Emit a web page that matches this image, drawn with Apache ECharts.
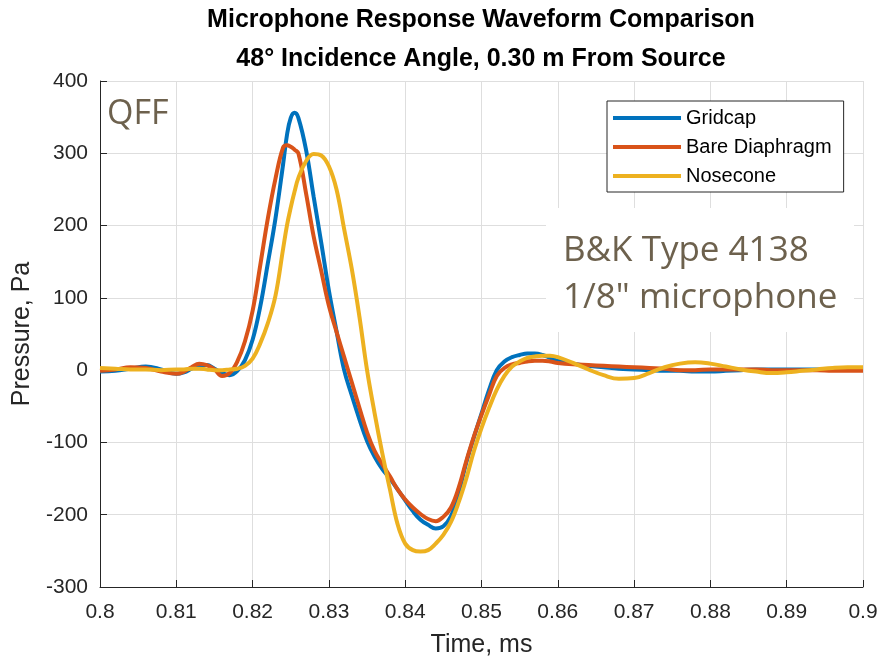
<!DOCTYPE html>
<html>
<head>
<meta charset="utf-8">
<script src="https://cdn.jsdelivr.net/npm/echarts@6/dist/echarts.min.js"></script>
<style>
  html, body { margin: 0; padding: 0; background: #fff; }
  #chart { width: 881px; height: 656px; }
</style>
</head>
<body>
<div id="chart"></div>
<script>
// time in ms (shared by all three traces), pressure in Pa
const timeMs = [
  0.800, 0.802, 0.804, 0.806, 0.808,
  0.810, 0.811, 0.812, 0.813, 0.814, 0.815, 0.816, 0.817, 0.818, 0.819,
  0.820, 0.821, 0.822, 0.823, 0.824, 0.8245, 0.825, 0.8255, 0.826, 0.827, 0.828, 0.829,
  0.830, 0.831, 0.832, 0.833, 0.834, 0.835, 0.836, 0.837, 0.838, 0.839,
  0.840, 0.841, 0.842, 0.843, 0.844, 0.845, 0.846, 0.847, 0.848, 0.849,
  0.850, 0.851, 0.852, 0.853, 0.854, 0.855, 0.856, 0.857, 0.858, 0.859,
  0.860, 0.862, 0.864, 0.866, 0.868, 0.870, 0.872, 0.874, 0.876, 0.878,
  0.880, 0.882, 0.884, 0.886, 0.888, 0.890, 0.892, 0.894, 0.896, 0.898, 0.900
];

const gridcapPa = [
  -2, -1, 2, 5, 1,
  -5, -3, 2, 7, 7, 2, -4, -7, -1, 14,
  42, 88, 148, 210, 285, 325, 349, 356, 349, 305, 240, 176,
  110, 54, 0, -35, -68, -98, -120, -137, -150, -165,
  -180, -195, -207, -214, -219, -216, -202, -170, -128, -93,
  -60, -27, 0, 12, 18, 21, 23, 23, 21, 17,
  13, 9, 6, 4, 2, 1, 0, -1, -1, -2,
  -2, -1, 0, 1, 1, 1, 1, 1, 1, 1, 1
];

const barePa = [
  -1, 1, 4, 3, -2,
  -5, -2, 4, 9, 7, 1, -8, -4, 12, 40,
  82, 145, 210, 265, 308, 311, 309, 305, 300, 245, 185, 137,
  89, 53, 18, -17, -52, -86, -112, -130, -147, -165,
  -179, -190, -199, -206, -209, -203, -190, -163, -126, -92,
  -62, -34, -8, 3, 8, 10, 12, 13, 13, 12,
  10, 8, 7, 6, 5, 4, 3, 2, 0, 0,
  1, 1, 1, 1, 0, 0, 0, 0, -1, -1, -1
];

const nosePa = [
  3, 2, 1, 1, 0,
  1, 1, 2, 2, 1, 0, 0, 1, 2, 6,
  16, 37, 65, 103, 168, 200, 225, 247, 266, 289, 299, 297,
  282, 250, 195, 140, 74, 0, -60, -115, -165, -213,
  -240, -249, -251, -249, -240, -228, -210, -183, -150, -112,
  -80, -52, -27, -8, 5, 12, 17, 19, 20, 20,
  18, 10, 1, -7, -12, -11, -4, 4, 9, 11,
  9, 5, 1, -2, -4, -3, -1, 1, 3, 4, 4
];

const seriesNames = ['Gridcap', 'Bare Diaphragm', 'Nosecone'];
const seriesValues = [gridcapPa, barePa, nosePa];
const seriesColors = ['#0072BD', '#D95319', '#EDB120'];
const yTicks = [-300, -200, -100, 0, 100, 200, 300, 400];

const axisColor = '#262626';
const gridColor = '#dedede';
const noteColor = '#6d614d';
const font = 'Liberation Sans, Arial, Helvetica, sans-serif';
const noteFont = 'Open Sans, Noto Sans, sans-serif';

const chart = echarts.init(document.getElementById('chart'));

const option = {
  animation: false,
  backgroundColor: '#fff',
  title: {
    text: 'Microphone Response Waveform Comparison\n48\u00b0 Incidence Angle, 0.30 m From Source',
    left: 481,
    top: 1,
    padding: 0,
    textAlign: 'center',
    textStyle: { fontFamily: font, fontWeight: 'bold', fontSize: 25, lineHeight: 39, color: '#000' }
  },
  grid: { left: 100, right: 18, top: 81, bottom: 69, containLabel: false, outerBoundsMode: 'none' },
  xAxis: {
    type: 'value',
    min: 0.8,
    max: 0.9,
    interval: 0.01,
    name: 'Time, ms',
    nameLocation: 'middle',
    nameGap: 46,
    nameTextStyle: { fontFamily: font, fontSize: 25, color: axisColor },
    axisLine: { show: true, onZero: false, lineStyle: { color: axisColor, width: 1 } },
    axisTick: { show: true, inside: true, length: 7, lineStyle: { color: axisColor } },
    axisLabel: {
      margin: 15,
      fontFamily: font, fontSize: 21, color: axisColor,
      formatter: v => String(Math.round(v * 100) / 100)
    },
    splitLine: { show: true, lineStyle: { color: gridColor, width: 1 } }
  },
  yAxis: {
    type: 'value',
    min: yTicks[0],
    max: yTicks[yTicks.length - 1],
    interval: 100,
    name: 'Pressure, Pa',
    nameLocation: 'middle',
    nameGap: 64,
    nameTextStyle: { fontFamily: font, fontSize: 25, color: axisColor },
    axisLine: { show: true, lineStyle: { color: axisColor, width: 1 } },
    axisTick: { show: true, inside: true, length: 7, lineStyle: { color: axisColor } },
    axisLabel: { margin: 12, fontFamily: font, fontSize: 21, color: axisColor },
    splitLine: { show: true, lineStyle: { color: gridColor, width: 1 } }
  },
  legend: {
    orient: 'vertical',
    left: 607,
    top: 101,
    padding: [7, 12, 6, 6],
    itemWidth: 68,
    itemHeight: 4,
    itemGap: 9,
    icon: 'rect',
    backgroundColor: '#fff',
    borderColor: axisColor,
    borderWidth: 1,
    borderRadius: 0,
    textStyle: { fontFamily: font, fontSize: 20, color: '#000' },
    data: seriesNames
  },
  graphic: [
    {
      type: 'rect',
      z: 5,
      shape: { x: 546, y: 208, width: 308, height: 124 },
      style: { fill: '#fff' }
    },
    {
      type: 'text',
      z: 6,
      left: 563,
      top: 228,
      style: {
        text: 'B&K Type 4138\n1/8" microphone',
        fontFamily: noteFont,
        fontSize: 35,
        lineHeight: 47,
        fill: noteColor
      }
    },
    {
      type: 'text',
      z: 6,
      left: 107,
      top: 97,
      style: { text: 'QFF', fontFamily: noteFont, fontSize: 34, fill: noteColor }
    }
  ],
  series: seriesNames.map((name, i) => ({
    name: name,
    type: 'line',
    data: timeMs.map((t, k) => [t, seriesValues[i][k]]),
    smooth: 0.4,
    showSymbol: false,
    symbol: 'none',
    clip: true,
    lineStyle: { color: seriesColors[i], width: 4 },
    itemStyle: { color: seriesColors[i] },
    z: 10 + i
  }))
};

chart.setOption(option);
</script>
</body>
</html>
